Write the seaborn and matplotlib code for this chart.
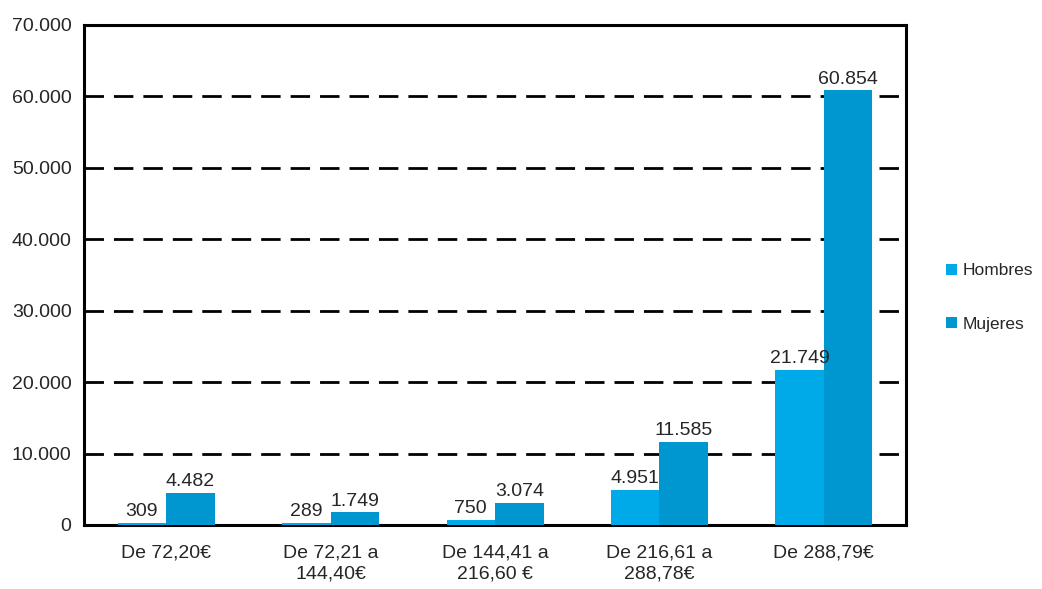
import matplotlib
matplotlib.use("Agg")
import matplotlib.pyplot as plt
import matplotlib.ticker as mticker
import pandas as pd
import seaborn as sns

# ── Data ───────────────────────────────────────────────────────────────────────
categories = [
    "De 72,20€",
    "De 72,21 a\n144,40€",
    "De 144,41 a\n216,60 €",
    "De 216,61 a\n288,78€",
    "De 288,79€",
]
series = ["Hombres", "Mujeres"]
hombres = [309, 289, 750, 4951, 21749]
mujeres = [4482, 1749, 3074, 11585, 60854]
y_ticks = [0, 10000, 20000, 30000, 40000, 50000, 60000, 70000]

colors = {"Hombres": "#00A9E8", "Mujeres": "#0096CF"}

df = pd.DataFrame({
    "Tramo": categories * 2,
    "Sexo": ["Hombres"] * len(categories) + ["Mujeres"] * len(categories),
    "Valor": hombres + mujeres,
})


def _miles(v):
    return f"{int(round(v)):,}".replace(",", ".")


sns.set_style("white")
plt.rcParams["font.family"] = ["Liberation Sans Narrow", "Liberation Sans", "DejaVu Sans"]
FS = 14

fig = plt.figure(figsize=(10.42, 5.89), dpi=100)
ax = fig.add_axes([0.0806, 0.1087, 0.7889, 0.8489])

sns.barplot(
    data=df, x="Tramo", y="Valor", hue="Sexo", order=categories,
    hue_order=series, palette=colors, width=0.59, gap=0,
    saturation=1, errorbar=None, linewidth=0, ax=ax, zorder=3,
)

# dashed gridlines
for y in y_ticks[1:-1]:
    ax.axhline(y, color="black", lw=2.0, linestyle=(0, (7, 3.6)), zorder=1)

for cont in ax.containers:
    ax.bar_label(cont, labels=[_miles(b.get_height()) for b in cont],
                 padding=2, fontsize=FS)

ax.set_ylim(0, 70000)
ax.set_xlim(-0.5, len(categories) - 0.5)
ax.set_yticks(y_ticks)
ax.yaxis.set_major_formatter(mticker.FuncFormatter(lambda v, _: _miles(v)))
ax.set_xlabel("")
ax.set_ylabel("")

# ticks at category boundaries, labels at centres
ax.set_xticks([i + 0.5 for i in range(-1, len(categories))], minor=True)
ax.tick_params(axis="x", which="major", length=0, pad=14, labelsize=FS)
ax.tick_params(axis="x", which="minor", length=5, width=2, direction="out")
ax.tick_params(axis="y", length=5, width=2, direction="out", pad=4, labelsize=FS)
for lbl in ax.get_xticklabels():
    lbl.set_linespacing(1.35)

for s in ax.spines.values():
    s.set_visible(True)
    s.set_linewidth(2.2)
    s.set_color("black")

handles, labels = ax.get_legend_handles_labels()
ax.legend(handles, labels, loc="center left", bbox_to_anchor=(1.03, 0.455),
          frameon=False, handlelength=0.6, handleheight=0.6,
          handletextpad=0.35, labelspacing=2.2, fontsize=12.5)

fig.savefig("out.png", dpi=100)
plt.close(fig)
